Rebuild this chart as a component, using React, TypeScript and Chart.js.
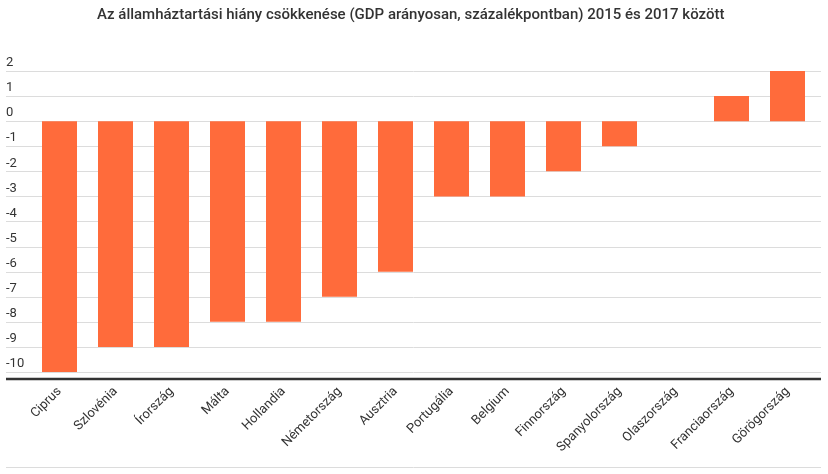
import React, { useEffect, useRef } from "react";
import { Chart, registerables } from "chart.js";

Chart.register(...registerables);

const TITLE = "Az államháztartási hiány csökkenése (GDP arányosan, százalékpontban) 2015 és 2017 között";
const COUNTRIES = [
  "Ciprus", "Szlovénia", "Írország", "Málta", "Hollandia", "Németország", "Ausztria",
  "Portugália", "Belgium", "Finnország", "Spanyolország", "Olaszország", "Franciaország", "Görögország",
];
const CHANGE = [-10, -9, -9, -8, -8, -7, -6, -3, -3, -2, -1, 0, 1, 2];
const Y_TICKS = [2, 1, 0, -1, -2, -3, -4, -5, -6, -7, -8, -9, -10];

const BAR_COLOR = "#ff6b3b";
const TEXT_COLOR = "#333333";
const FONT = "Roboto, 'Noto Sans', sans-serif";

const fullGrid = {
  id: "fullGrid",
  beforeDatasetsDraw(chart: any) {
    const y = chart.scales.y;
    const ctx = chart.ctx;
    ctx.save();
    ctx.strokeStyle = "#dcdcdc";
    ctx.lineWidth = 1;
    y.ticks.forEach((t: any) => {
      const py = Math.round(y.getPixelForValue(t.value)) + 0.5;
      ctx.beginPath();
      ctx.moveTo(6, py);
      ctx.lineTo(821, py);
      ctx.stroke();
    });
    ctx.restore();
  },
  afterDatasetsDraw(chart: any) {
    const y = chart.scales.y;
    const ctx = chart.ctx;
    ctx.save();
    ctx.strokeStyle = "#333333";
    ctx.lineWidth = 2.5;
    const by = Math.round(y.bottom);
    ctx.beginPath();
    ctx.moveTo(6, by);
    ctx.lineTo(821, by);
    ctx.stroke();
    ctx.strokeStyle = "#dcdcdc";
    ctx.lineWidth = 1;
    const fy = chart.height - 7 + 0.5;
    ctx.beginPath();
    ctx.moveTo(6, fy);
    ctx.lineTo(821, fy);
    ctx.stroke();
    ctx.restore();
  },
};

export default function App() {
  const ref = useRef<HTMLCanvasElement | null>(null);
  useEffect(() => {
    if (!ref.current) return;
    const chart = new Chart(ref.current, {
      type: "bar",
      data: {
        labels: COUNTRIES,
        datasets: [
          {
            data: CHANGE,
            backgroundColor: BAR_COLOR,
            barPercentage: 0.625,
            categoryPercentage: 1,
          },
        ],
      },
      plugins: [fullGrid],
      options: {
        animation: false,
        responsive: true,
        maintainAspectRatio: false,
        layout: { padding: { left: 6, right: 12.5, top: 0, bottom: 7 } },
        plugins: {
          legend: { display: false },
          tooltip: { enabled: false },
          title: {
            display: true,
            text: TITLE,
            color: TEXT_COLOR,
            font: { family: FONT, size: 15, weight: "500" as any },
            padding: { top: 6, bottom: 47 },
          },
        },
        scales: {
          x: {
            grid: { display: false, drawTicks: false },
            border: { display: false },
            ticks: {
              color: TEXT_COLOR,
              font: { family: FONT, size: 13 },
              maxRotation: 45,
              minRotation: 45,
              autoSkip: false,
              padding: 5,
            },
            afterFit(scale: any) {
              scale.height = 88;
            },
          },
          y: {
            min: -10.28,
            max: 2,
            grid: { display: false, drawTicks: false },
            border: { display: false },
            afterBuildTicks(scale: any) {
              scale.ticks = Y_TICKS.map((v) => ({ value: v }));
            },
            ticks: {
              color: TEXT_COLOR,
              font: { family: FONT, size: 13 },
              crossAlign: "far",
              labelOffset: -8,
              padding: 0,
            },
            afterFit(scale: any) {
              scale.width = 25.5;
            },
          },
        },
      },
    });
    return () => chart.destroy();
  }, []);
  return (
    <div style={{ position: "fixed", left: 0, top: 0, width: 828, height: 474, background: "#fff" }}>
      <canvas ref={ref} />
    </div>
  );
}
